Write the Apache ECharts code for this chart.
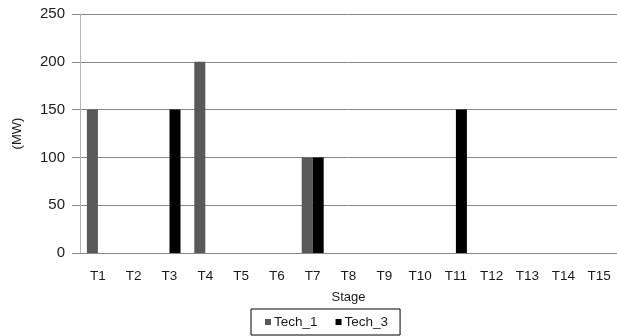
<!DOCTYPE html>
<html>
<head>
<meta charset="utf-8">
<script src="https://cdn.jsdelivr.net/npm/echarts@6/dist/echarts.min.js"></script>
<style>
html,body{margin:0;padding:0;background:#fff;}
#chart{width:617px;height:336px;}
</style>
</head>
<body>
<div id="chart"></div>
<script>
const categories = ['T1','T2','T3','T4','T5','T6','T7','T8','T9','T10','T11','T12','T13','T14','T15'];
const tech1 = [150, 0, 0, 200, 0, 0, 100, 0, 0, 0, 0, 0, 0, 0, 0];
const tech3 = [0, 0, 150, 0, 0, 0, 100, 0, 0, 0, 150, 0, 0, 0, 0];
const yTicks = [0, 50, 100, 150, 200, 250];

const font = 'Liberation Sans, Arial, sans-serif';
const txt = '#1a1a1a';
const chart = echarts.init(document.getElementById('chart'), null, {renderer: 'canvas'});
chart.setOption({
  animation: false,
  backgroundColor: '#fff',
  textStyle: {fontFamily: font},
  grid: {left: 80, top: 14, right: -4, bottom: 83},
  legend: {
    left: 251, top: 309,
    data: ['Tech_1', 'Tech_3'],
    icon: 'rect',
    itemWidth: 6, itemHeight: 6, itemGap: 18,
    borderColor: '#000', borderWidth: 1, borderRadius: 0,
    padding: [6, 12, 6, 14],
    textStyle: {fontSize: 13.5, color: txt, fontFamily: font, padding: [0, 0, 0, -2]}
  },
  xAxis: {
    type: 'category',
    data: categories,
    name: 'Stage',
    nameLocation: 'middle',
    nameGap: 38,
    nameTextStyle: {fontSize: 13, color: txt, fontFamily: font},
    axisLine: {lineStyle: {color: '#868686'}},
    axisTick: {show: false},
    axisLabel: {fontSize: 13.5, color: txt, margin: 16, fontFamily: font}
  },
  yAxis: {
    type: 'value',
    min: yTicks[0], max: yTicks[yTicks.length - 1], interval: 50,
    name: '(MW)',
    nameLocation: 'middle',
    nameRotate: 90,
    nameGap: 56,
    nameTextStyle: {fontSize: 13, color: txt, fontFamily: font},
    axisLine: {show: true, lineStyle: {color: '#b4b4b4'}},
    axisTick: {show: true, length: 8, lineStyle: {color: '#868686'}},
    splitLine: {lineStyle: {color: '#868686'}},
    axisLabel: {fontSize: 15, color: txt, margin: 15, fontFamily: font}
  },
  series: [
    {name: 'Tech_1', type: 'bar', data: tech1, barWidth: 11, barGap: '0%', itemStyle: {color: '#595959'}},
    {name: 'Tech_3', type: 'bar', data: tech3, barWidth: 11, barGap: '0%', itemStyle: {color: '#000000'}}
  ]
});
</script>
</body>
</html>
